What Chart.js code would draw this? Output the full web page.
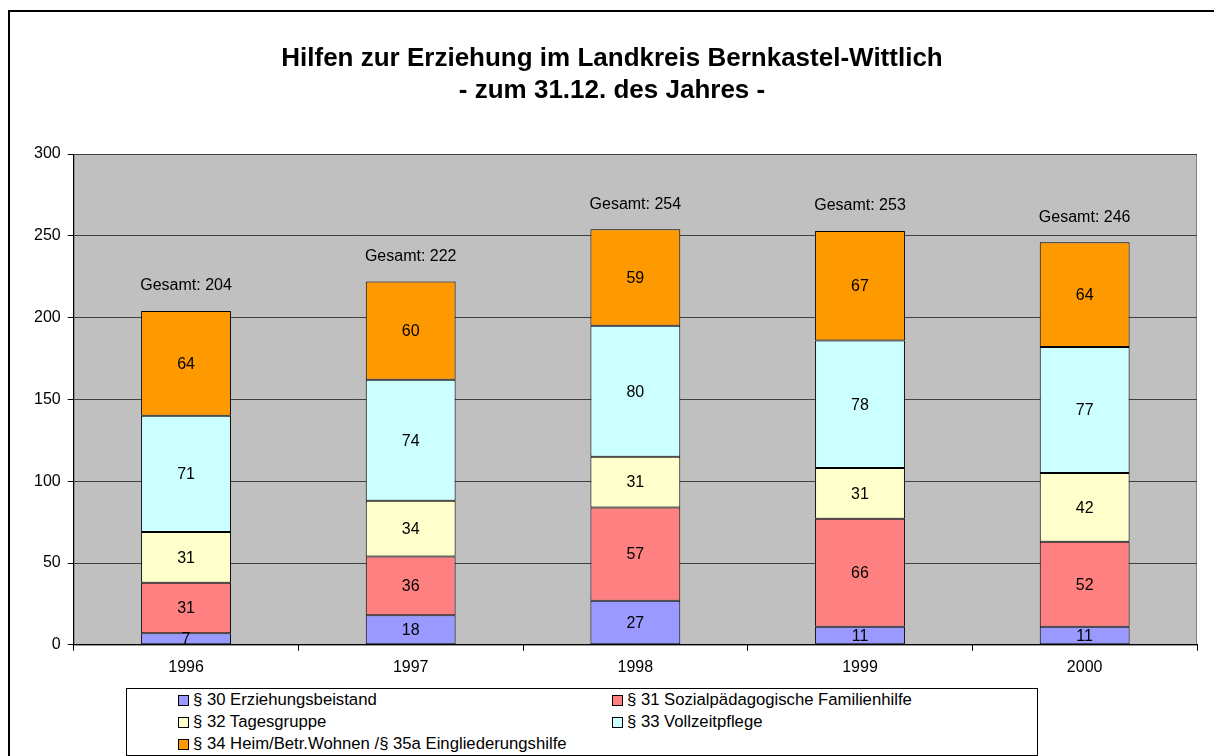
<!DOCTYPE html>
<html>
<head>
<meta charset="utf-8">
<script src="https://cdn.jsdelivr.net/npm/chart.js@4/dist/chart.umd.min.js"></script>
<style>
  body { margin: 0; background: #fff; font-family: "Liberation Sans", Arial, sans-serif; }
  #rahmen { position: absolute; left: 8px; top: 10px; width: 1230px; height: 770px; border: 2px solid #000; }
  #c { position: absolute; left: 0; top: 0; }
  #legende {
    position: absolute; left: 126px; top: 688px; width: 910px; height: 66px;
    border: 1px solid #000; background: #fff;
    display: grid; grid-template-columns: 485px 1fr; grid-auto-rows: 22px;
    font-size: 16.7px; color: #000;
  }
  #legende div { display: flex; align-items: center; }
  #legende div:nth-child(odd) { padding-left: 51px; }
  #legende span.box { width: 9px; height: 9px; border: 1px solid #000; margin-right: 4px; display: inline-block; }
</style>
</head>
<body>
<div id="rahmen"></div>
<canvas id="c" width="1214" height="756"></canvas>
<div id="legende"></div>
<script>
const jahre = ['1996', '1997', '1998', '1999', '2000']
const p30 = [7, 18, 27, 11, 11]
const p31 = [31, 36, 57, 66, 52]
const p32 = [31, 34, 31, 31, 42]
const p33 = [71, 74, 80, 78, 77]
const p34 = [64, 60, 59, 67, 64]
const namen = [
  '§ 30 Erziehungsbeistand',
  '§ 31 Sozialpädagogische Familienhilfe',
  '§ 32 Tagesgruppe',
  '§ 33 Vollzeitpflege',
  '§ 34 Heim/Betr.Wohnen /§ 35a Eingliederungshilfe'
]
const farben = ['#9999FF', '#FF8080', '#FFFFCC', '#CCFFFF', '#FF9900']
const reihen = [p30, p31, p32, p33, p34]

const schrift = '"Liberation Sans", Arial, sans-serif'

// grauer Hintergrund der Zeichenfläche
const hintergrund = {
  id: 'hintergrund',
  beforeDraw(chart) {
    const { ctx, chartArea: a } = chart
    ctx.save()
    ctx.fillStyle = '#C0C0C0'
    ctx.fillRect(a.left, a.top, a.right - a.left, a.bottom - a.top)
    ctx.strokeStyle = '#808080'
    ctx.lineWidth = 1
    ctx.strokeRect(a.left + 0.5, a.top + 0.5, a.right - a.left - 1, a.bottom - a.top)
    ctx.restore()
  }
}

// Zahlen in den Segmenten und Gesamt oben drauf
const beschriftung = {
  id: 'beschriftung',
  afterDatasetsDraw(chart) {
    const { ctx } = chart
    ctx.save()
    ctx.font = '16px ' + schrift
    ctx.fillStyle = '#000'
    ctx.textAlign = 'center'
    ctx.textBaseline = 'middle'
    chart.data.datasets.forEach((ds, i) => {
      chart.getDatasetMeta(i).data.forEach((bar, j) => {
        const y = (bar.y + bar.base) / 2
        ctx.fillText(ds.data[j], bar.x, y + 1)
      })
    })
    const yScale = chart.scales.y
    jahre.forEach((j, k) => {
      const summe = reihen.reduce((acu, r) => acu + r[k], 0)
      const x = chart.getDatasetMeta(0).data[k].x
      ctx.fillText('Gesamt: ' + summe, x, yScale.getPixelForValue(summe) - 25)
    })
    ctx.restore()
  }
}

new Chart(document.getElementById('c'), {
  type: 'bar',
  data: {
    labels: jahre,
    datasets: reihen.map((r, i) => ({
      label: namen[i],
      data: r,
      backgroundColor: farben[i],
      borderColor: '#000',
      borderWidth: 1,
      borderSkipped: false,
      barPercentage: 0.4,
      categoryPercentage: 1
    }))
  },
  options: {
    responsive: false,
    animation: false,
    layout: { padding: { left: 27, right: 17, top: 0, bottom: 72 } },
    plugins: {
      legend: { display: false },
      tooltip: { enabled: false },
      title: {
        display: true,
        text: ['Hilfen zur Erziehung im Landkreis Bernkastel-Wittlich', '- zum 31.12. des Jahres -'],
        color: '#000',
        font: { family: schrift, size: 26, weight: 'bold', lineHeight: 32 / 26 },
        padding: { top: 43, bottom: 47 }
      }
    },
    scales: {
      x: {
        stacked: true,
        offset: true,
        grid: { offset: true, drawOnChartArea: false, drawTicks: true, tickLength: 6, color: '#000' },
        border: { display: true, color: '#000' },
        ticks: { color: '#000', font: { family: schrift, size: 16 }, padding: 7 }
      },
      y: {
        stacked: true,
        min: 0,
        max: 300,
        ticks: { stepSize: 50, color: '#000', font: { family: schrift, size: 16 }, padding: 7 },
        grid: { color: '#404040', tickLength: 6, drawTicks: true, tickColor: '#000' },
        border: { display: true, color: '#000' }
      }
    }
  },
  plugins: [hintergrund, beschriftung]
})

const legende = document.getElementById('legende')
namen.forEach((n, i) => {
  legende.innerHTML += `<div><span class="box" style="background:${farben[i]}"></span>${n}</div>`
})
</script>
</body>
</html>
